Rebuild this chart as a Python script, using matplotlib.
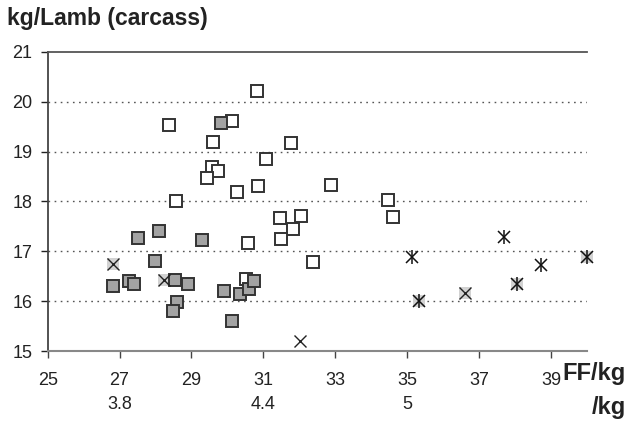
import matplotlib.pyplot as plt
from matplotlib.transforms import blended_transform_factory

plt.rcParams['font.family'] = ['Liberation Sans', 'DejaVu Sans']

# ---- data ----
open_x = [30.81, 28.37, 30.13, 29.60, 31.08, 29.58, 29.73, 29.43, 30.86, 30.26, 28.56,
          31.78, 32.89, 34.46, 34.60, 31.45, 32.05, 31.83, 31.49, 30.56, 32.37, 30.53]
open_y = [20.21, 19.54, 19.61, 19.20, 18.85, 18.69, 18.62, 18.47, 18.31, 18.18, 18.00,
          19.18, 18.32, 18.02, 17.68, 17.66, 17.71, 17.44, 17.25, 17.16, 16.78, 16.44]

gray_x = [29.81, 27.50, 28.11, 29.30, 28.00, 26.83, 27.25, 27.41, 28.55, 28.91, 28.61,
          28.48, 29.91, 30.35, 30.60, 30.73, 30.14]
gray_y = [19.57, 17.26, 17.41, 17.23, 16.80, 16.30, 16.41, 16.35, 16.42, 16.34, 15.98,
          15.81, 16.21, 16.15, 16.25, 16.40, 15.60]

xbg_x = [26.82, 28.25, 36.62]
xbg_y = [16.74, 16.42, 16.16]

x_x = [32.02]
x_y = [15.20]

star_x = [35.14, 37.69, 38.72]
star_y = [16.88, 17.29, 16.72]

starbg_x = [35.34, 38.05, 40.0]
starbg_y = [16.00, 16.34, 16.89]

xticks = [25, 27, 29, 31, 33, 35, 37, 39]
yticks = [15, 16, 17, 18, 19, 20, 21]
sub_ticks = [27, 31, 35]
sub_labels = ['3.8', '4.4', '5']

# ---- figure ----
fig = plt.figure(figsize=(6.27, 4.21), dpi=100)
ax = fig.add_axes([0.076, 0.166, 0.860, 0.711])

ax.set_xlim(25, 40)
ax.set_ylim(15, 21)

for yv in yticks[1:-1]:
    ax.axhline(yv, color='#555555', lw=1.0, ls=(0, (1.2, 3.2)), zorder=1)

ms = 8.8
edge = '#333333'
bg = '#d2d2d2'

ax.plot(open_x, open_y, 's', ms=ms, mfc='white', mec=edge, mew=1.4, zorder=3)
ax.plot(gray_x, gray_y, 's', ms=ms, mfc='#a3a3a3', mec=edge, mew=1.4, zorder=4)

# light background squares behind cross / asterisk markers
ax.plot(xbg_x + starbg_x, xbg_y + starbg_y, 's', ms=ms + 0.5, mfc=bg, mec=bg, mew=0,
        zorder=3, clip_on=False)
ax.plot(xbg_x + x_x, xbg_y + x_y, 'x', ms=ms + 0.5, mec='#222222', mew=1.0,
        zorder=5, clip_on=False)
ax.plot(star_x + starbg_x, star_y + starbg_y, 'x', ms=ms + 0.5, mec='#111111', mew=1.1,
        zorder=5, clip_on=False)
ax.plot(star_x + starbg_x, star_y + starbg_y, '|', ms=ms + 1, mec='#111111', mew=1.1,
        zorder=5, clip_on=False)

# spines
ax.spines['right'].set_visible(False)
ax.spines['top'].set_color('#555555')
ax.spines['top'].set_linewidth(1.3)
ax.spines['left'].set_color('#444444')
ax.spines['left'].set_linewidth(1.3)
ax.spines['bottom'].set_color('#888888')
ax.spines['bottom'].set_linewidth(1.5)

ax.set_xticks(xticks)
ax.set_xticklabels([str(t) for t in xticks])
ax.set_yticks(yticks)
ax.set_yticklabels([str(t) for t in yticks])
ax.tick_params(axis='both', labelsize=13, colors='#222222', length=5, width=1.0,
               direction='out', pad=10)
ax.tick_params(axis='y', pad=6)
ax.tick_params(axis='x', top=False, color='#444444')

trans = blended_transform_factory(ax.transData, ax.transAxes)
for t, lab in zip(sub_ticks, sub_labels):
    ax.text(t, -0.18, lab, transform=trans, ha='center', va='center',
            fontsize=13, color='#222222')

fig.text(0.011, 0.957, 'kg/Lamb (carcass)', fontsize=16.5, fontweight='bold',
         ha='left', va='center', color='#222222')
fig.text(0.998, 0.112, 'FF/kg', fontsize=17, fontweight='bold',
         ha='right', va='center', color='#222222')
fig.text(0.998, 0.033, '/kg', fontsize=17, fontweight='bold',
         ha='right', va='center', color='#222222')

fig.savefig('out.png', dpi=100)
